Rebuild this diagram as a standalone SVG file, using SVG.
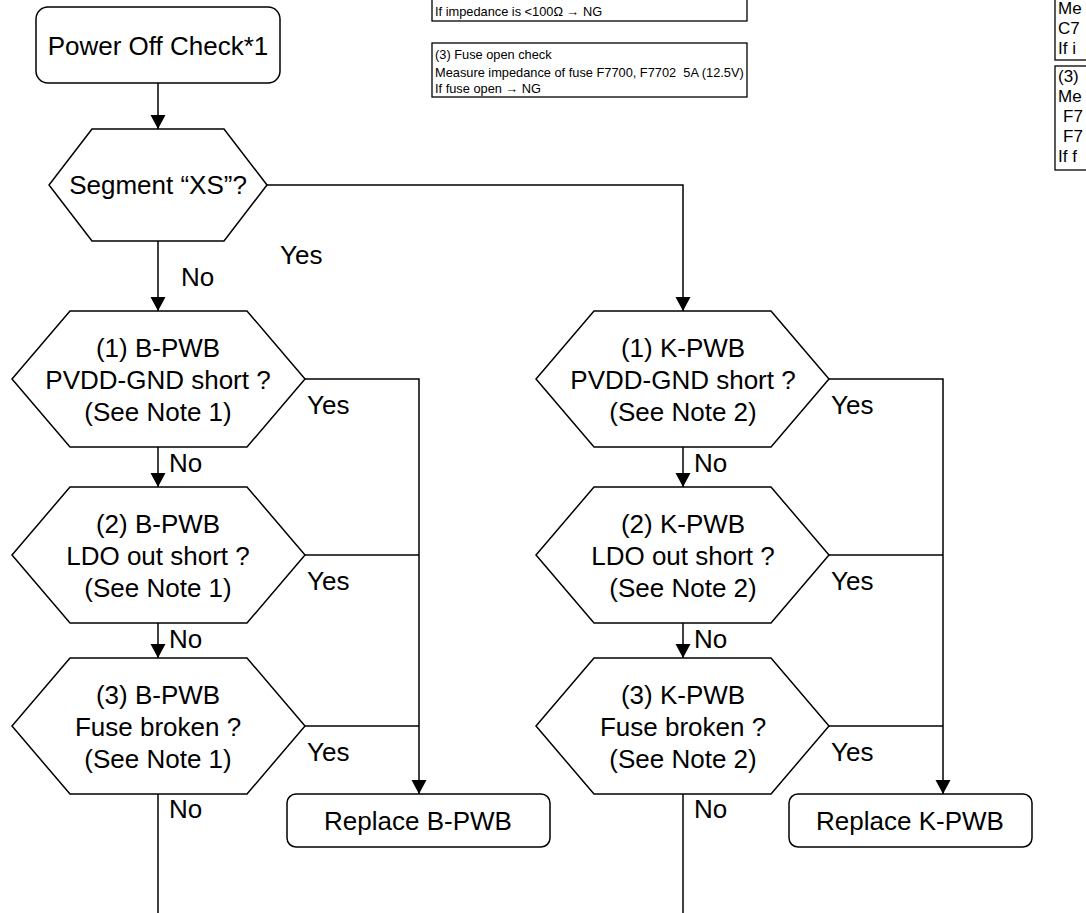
<svg xmlns="http://www.w3.org/2000/svg" width="1086" height="913" viewBox="0 0 1086 913">
<style>
.shape{fill:#fff;stroke:#000;stroke-width:1.5}
.note{fill:#fff;stroke:#000;stroke-width:1.3}
.line{fill:none;stroke:#000;stroke-width:1.5}
.t{font-family:"Liberation Sans",Arial,sans-serif;font-size:26px;fill:#000}
.c{text-anchor:middle}
.n{font-family:"Liberation Sans",Arial,sans-serif;font-size:12.8px;fill:#000}
.r{font-family:"Liberation Sans",Arial,sans-serif;font-size:17px;fill:#000}
</style>
<defs>
<marker id="arr" markerUnits="userSpaceOnUse" markerWidth="16" markerHeight="16" refX="14" refY="7.5" orient="auto">
<path d="M0,0 L14,7.5 L0,15 z" fill="#000"/>
</marker>
</defs>
<rect width="1086" height="913" fill="#fff"/>

<g id="note-middle-1">
<rect class="note" x="432" y="-10" width="315" height="31"/>
<text class="n" x="435" y="16">If impedance is &lt;100Ω → NG</text>
</g>
<g id="note-middle-2">
<rect class="note" x="432" y="43" width="315" height="54"/>
<text class="n" x="435" y="59">(3) Fuse open check</text>
<text class="n" x="435" y="77" xml:space="preserve">Measure impedance of fuse F7700, F7702  5A (12.5V)</text>
<text class="n" x="435" y="93">If fuse open → NG</text>
</g>
<g id="note-right-1">
<rect class="note" x="1055" y="-10" width="60" height="70"/>
<text class="r" x="1058" y="14">Me</text>
<text class="r" x="1058" y="34">C7</text>
<text class="r" x="1058" y="54">If i</text>
</g>
<g id="note-right-2">
<rect class="note" x="1055" y="66" width="60" height="104"/>
<text class="r" x="1058" y="82">(3)</text>
<text class="r" x="1058" y="102">Me</text>
<text class="r" x="1063" y="122">F7</text>
<text class="r" x="1063" y="142">F7</text>
<text class="r" x="1058" y="162">If f</text>
</g>

<g id="connectors">
<path class="line" d="M158,83 V129" marker-end="url(#arr)"/>
<path class="line" d="M158,241 V311" marker-end="url(#arr)"/>
<path class="line" d="M267,185 H683 V311" marker-end="url(#arr)"/>
<path class="line" d="M158,447 V487" marker-end="url(#arr)"/>
<path class="line" d="M158,623 V658" marker-end="url(#arr)"/>
<path class="line" d="M158,794 V913"/>
<path class="line" d="M305,379 H419 V794" marker-end="url(#arr)"/>
<path class="line" d="M305,555 H419"/>
<path class="line" d="M305,726 H419"/>
<path class="line" d="M683,447 V487" marker-end="url(#arr)"/>
<path class="line" d="M683,623 V658" marker-end="url(#arr)"/>
<path class="line" d="M683,794 V913"/>
<path class="line" d="M829,379 H943 V794" marker-end="url(#arr)"/>
<path class="line" d="M829,555 H943"/>
<path class="line" d="M829,726 H943"/>
<text class="t" x="280" y="264">Yes</text>
<text class="t" x="181" y="286">No</text>
<text class="t" x="307" y="414">Yes</text>
<text class="t" x="307" y="590">Yes</text>
<text class="t" x="307" y="761">Yes</text>
<text class="t" x="169" y="472">No</text>
<text class="t" x="169" y="648">No</text>
<text class="t" x="169" y="818">No</text>
<text class="t" x="831" y="414">Yes</text>
<text class="t" x="831" y="590">Yes</text>
<text class="t" x="831" y="761">Yes</text>
<text class="t" x="694" y="472">No</text>
<text class="t" x="694" y="648">No</text>
<text class="t" x="694" y="818">No</text>
</g>

<g id="power-off">
<rect class="shape" x="36" y="7" width="244" height="76" rx="12"/>
<text class="t c" x="158" y="55">Power Off Check*1</text>
</g>
<g id="segment">
<polygon class="shape" points="92,129 224,129 267,185 224,241 92,241 49,185"/>
<text class="t c" x="158" y="194">Segment “XS”?</text>
</g>

<g id="b1">
<polygon class="shape" points="70,311 247,311 305,379 247,447 70,447 12,379"/>
<text class="t c" x="158" y="357">(1) B-PWB</text>
<text class="t c" x="158" y="389">PVDD-GND short ?</text>
<text class="t c" x="158" y="421">(See Note 1)</text>
</g>
<g id="b2">
<polygon class="shape" points="70,487 247,487 305,555 247,623 70,623 12,555"/>
<text class="t c" x="158" y="533">(2) B-PWB</text>
<text class="t c" x="158" y="565">LDO out short ?</text>
<text class="t c" x="158" y="597">(See Note 1)</text>
</g>
<g id="b3">
<polygon class="shape" points="70,658 247,658 305,726 247,794 70,794 12,726"/>
<text class="t c" x="158" y="704">(3) B-PWB</text>
<text class="t c" x="158" y="736">Fuse broken ?</text>
<text class="t c" x="158" y="768">(See Note 1)</text>
</g>
<g id="replace-b">
<rect class="shape" x="287" y="794" width="263" height="53" rx="9"/>
<text class="t c" x="418" y="830">Replace B-PWB</text>
</g>

<g id="k1">
<polygon class="shape" points="594,311 771,311 829,379 771,447 594,447 536,379"/>
<text class="t c" x="683" y="357">(1) K-PWB</text>
<text class="t c" x="683" y="389">PVDD-GND short ?</text>
<text class="t c" x="683" y="421">(See Note 2)</text>
</g>
<g id="k2">
<polygon class="shape" points="594,487 771,487 829,555 771,623 594,623 536,555"/>
<text class="t c" x="683" y="533">(2) K-PWB</text>
<text class="t c" x="683" y="565">LDO out short ?</text>
<text class="t c" x="683" y="597">(See Note 2)</text>
</g>
<g id="k3">
<polygon class="shape" points="594,658 771,658 829,726 771,794 594,794 536,726"/>
<text class="t c" x="683" y="704">(3) K-PWB</text>
<text class="t c" x="683" y="736">Fuse broken ?</text>
<text class="t c" x="683" y="768">(See Note 2)</text>
</g>
<g id="replace-k">
<rect class="shape" x="789" y="794" width="243" height="53" rx="9"/>
<text class="t c" x="910" y="830">Replace K-PWB</text>
</g>
</svg>
